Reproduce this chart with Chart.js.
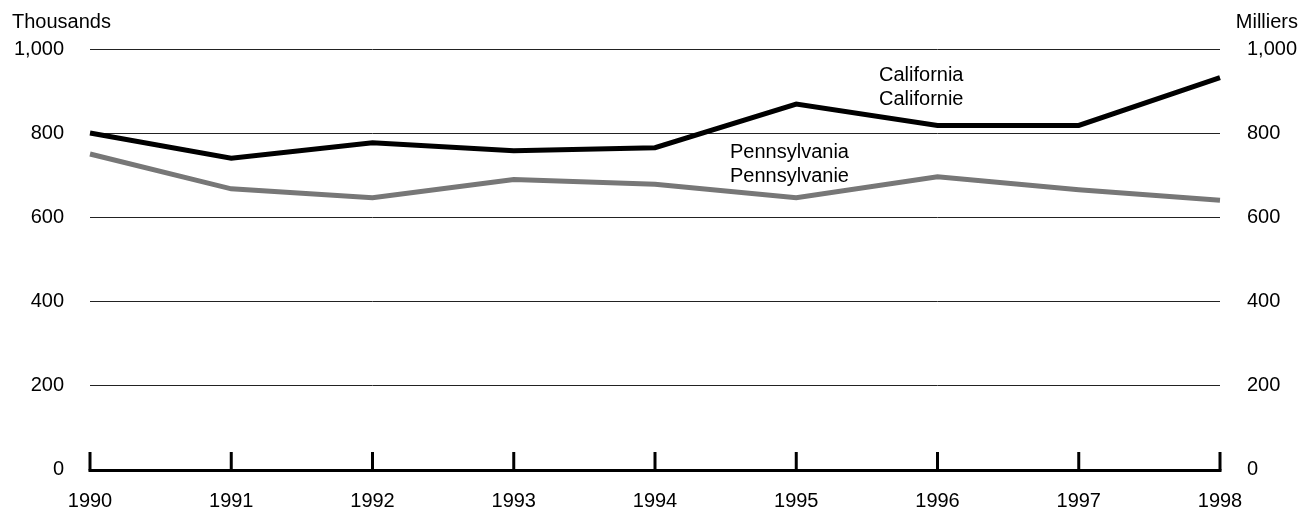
<!DOCTYPE html>
<html>
<head>
<meta charset="utf-8">
<script src="https://cdn.jsdelivr.net/npm/chart.js@4.4.1/dist/chart.umd.min.js"></script>
<style>
  html, body { margin: 0; padding: 0; background: #fff; }
  canvas { display: block; }
</style>
</head>
<body>
<canvas id="chart" width="1301" height="510"></canvas>
<script>
// data (thousands)
const years = ['1990', '1991', '1992', '1993', '1994', '1995', '1996', '1997', '1998'];
const california = [800, 740, 777, 758, 765, 869, 818, 818, 932];
const pennsylvania = [750, 667, 646, 689, 678, 646, 696, 665, 640];
const yTicks = [0, 200, 400, 600, 800, 1000];

const FONT = "'Liberation Sans', Arial, sans-serif";

Chart.defaults.font.family = FONT;
Chart.defaults.font.size = 20;
Chart.defaults.color = '#000';

function fmt(v) {
    return Number(v).toLocaleString('en-US');
}

// zero axis drawn thick with upward tick marks, plus the text labels
const decorations = {
    id: 'decorations',
    afterDatasetsDraw(chart) {
        const ctx = chart.ctx;
        const x = chart.scales.x;
        const y = chart.scales.y;
        const y0 = Math.round(y.getPixelForValue(0)) + 1.5;

        ctx.save();
        ctx.strokeStyle = '#000';
        ctx.lineWidth = 3;
        ctx.lineCap = 'butt';
        ctx.beginPath();
        ctx.moveTo(x.getPixelForValue(0) - 1.5, y0);
        ctx.lineTo(x.getPixelForValue(years.length - 1) + 1.5, y0);
        ctx.stroke();
        years.forEach((yr, i) => {
            const px = x.getPixelForValue(i);
            ctx.beginPath();
            ctx.moveTo(px, y0);
            ctx.lineTo(px, 452);
            ctx.stroke();
        });

        ctx.fillStyle = '#000';
        ctx.font = '20px ' + FONT;
        ctx.textBaseline = 'alphabetic';
        ctx.textAlign = 'left';
        ctx.fillText('Thousands', 12, 28);
        ctx.fillText('California', 879, 81);
        ctx.fillText('Californie', 879, 105);
        ctx.fillText('Pennsylvania', 730, 158);
        ctx.fillText('Pennsylvanie', 730, 182);
        ctx.textAlign = 'right';
        ctx.fillText('Milliers', 1298, 28);
        ctx.restore();
    }
};

new Chart(document.getElementById('chart').getContext('2d'), {
    type: 'line',
    data: {
        labels: years,
        datasets: [
            {
                label: 'California',
                data: california,
                borderColor: '#000',
                borderWidth: 5,
                pointRadius: 0,
                tension: 0,
                yAxisID: 'y'
            },
            {
                label: 'Pennsylvania',
                data: pennsylvania,
                borderColor: '#777',
                borderWidth: 5,
                pointRadius: 0,
                tension: 0,
                yAxisID: 'y'
            }
        ]
    },
    options: {
        responsive: false,
        animation: false,
        layout: { padding: { top: 49, right: 0, bottom: 0, left: 0 } },
        plugins: {
            legend: { display: false },
            tooltip: { enabled: false },
            title: { display: false }
        },
        scales: {
            x: {
                type: 'category',
                offset: false,
                grid: { display: false, drawTicks: false },
                border: { display: false },
                ticks: { padding: 20, maxRotation: 0, autoSkip: false },
                afterFit(scale) { scale.height = 41; }
            },
            y: {
                position: 'left',
                min: 0,
                max: 1000,
                afterBuildTicks(scale) { scale.ticks = yTicks.map(v => ({ value: v })); },
                ticks: { padding: 26, callback: fmt },
                grid: {
                    drawTicks: false,
                    lineWidth: 1,
                    color: ctx => ctx.tick && ctx.tick.value === 0 ? 'rgba(0,0,0,0)' : '#222'
                },
                border: { display: false },
                afterFit(scale) { scale.width = 90; }
            },
            y2: {
                position: 'right',
                min: 0,
                max: 1000,
                afterBuildTicks(scale) { scale.ticks = yTicks.map(v => ({ value: v })); },
                ticks: { padding: 27, callback: fmt },
                grid: { display: false, drawTicks: false },
                border: { display: false },
                afterFit(scale) { scale.width = 81; }
            }
        }
    },
    plugins: [decorations]
});
</script>
</body>
</html>
